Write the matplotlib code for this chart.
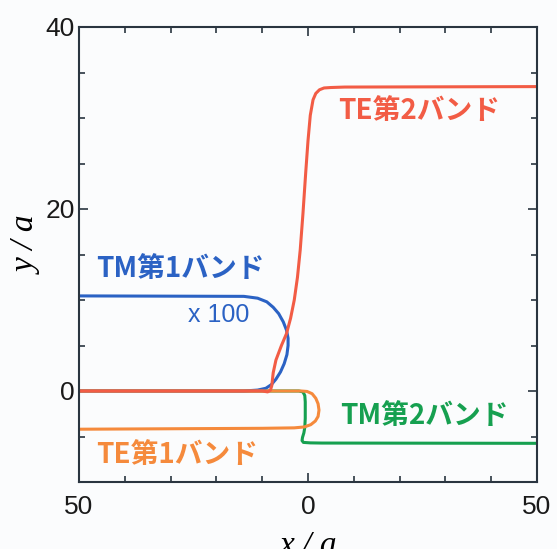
import numpy as np
import matplotlib.pyplot as plt
from matplotlib.ticker import MultipleLocator, FixedLocator

# TE band 2 (red)
te2_x = [-50, -10, -8.8, -8.2, -7.9, -7.6, -7.0, -5.8, -4.7, -3.8, -3.0, -2.3, -1.7, -1.1, -0.5, 0.0, 0.5, 1.1, 1.7, 2.5, 3.5, 5, 8, 50]
te2_y = [0, 0, -0.1, 0.1, 0.6, 2.0, 3.4, 5.0, 6.3, 8.0, 10.0, 12.5, 15.5, 19.5, 24.0, 27.5, 30.3, 32.0, 32.7, 33.1, 33.3, 33.35, 33.4, 33.45]

# TM band 1 (blue, x100)
tm1_x = [-50, -14, -11, -9.2, -8.0, -7.0, -6.0, -5.2, -4.6, -4.35, -4.35, -4.7, -5.4, -6.4, -7.6, -9.0, -11, -14, -50]
tm1_y = [0, 0, 0.1, 0.3, 0.7, 1.3, 2.1, 3.0, 4.0, 5.0, 5.8, 6.7, 7.6, 8.5, 9.2, 9.8, 10.2, 10.4, 10.45]

# TE band 1 (orange)
te1_x = [-50, -4, -1.5, -0.2, 0.9, 1.7, 2.2, 2.4, 2.2, 1.6, 0.6, -0.8, -3, -10, -50]
te1_y = [0, 0, 0.0, -0.05, -0.3, -0.8, -1.4, -2.1, -2.8, -3.3, -3.7, -3.95, -4.05, -4.1, -4.2]

# TM band 2 (green)
tm2_x = [-50, -2.0, -1.1, -0.7, -0.6, -0.6, -0.7, -0.9, -1.2, -1.3, -1.0, 0.5, 3, 50]
tm2_y = [0, 0, -0.1, -0.5, -1.2, -3.0, -4.0, -4.6, -5.1, -5.45, -5.65, -5.7, -5.72, -5.75]

xtick_vals = [-50, 0, 50]
xtick_text = ['50', '0', '50']
ytick_vals = [0, 20, 40]

c_red = '#f25c45'
c_blue = '#2b62c4'
c_orange = '#f58a3c'
c_green = '#16a050'

fig = plt.figure(figsize=(5.57, 5.49), dpi=100)
fig.patch.set_facecolor('#fbfcfd')
ax = fig.add_axes([79/557, 1-482/549, (537-79)/557, (482-27)/549])
ax.set_facecolor('#fbfcfd')

lw = 2.2
ax.plot(tm2_x, tm2_y, color=c_green, lw=lw, solid_capstyle='round', solid_joinstyle='round')
ax.plot(tm1_x, tm1_y, color=c_blue, lw=lw, solid_capstyle='round', solid_joinstyle='round')
ax.plot(te1_x, te1_y, color=c_orange, lw=lw, solid_capstyle='round', solid_joinstyle='round')
ax.plot(te2_x, te2_y, color=c_red, lw=lw, solid_capstyle='round', solid_joinstyle='round')

ax.set_xlim(-50, 50)
ax.set_ylim(-10, 40)
ax.xaxis.set_major_locator(FixedLocator(xtick_vals))
ax.set_xticklabels(xtick_text)
ax.xaxis.set_minor_locator(MultipleLocator(10))
ax.yaxis.set_major_locator(FixedLocator(ytick_vals))
ax.yaxis.set_minor_locator(MultipleLocator(5))

spc = '#2a3540'
for s in ax.spines.values():
    s.set_color(spc)
    s.set_linewidth(1.5)
ax.tick_params(which='both', direction='in', top=True, right=True, color=spc, width=1.2)
ax.tick_params(which='major', length=6.5)
ax.tick_params(which='minor', length=4.5)
ax.tick_params(axis='y', which='major', pad=3)
ax.tick_params(axis='x', which='major', pad=9)
for lab in ax.get_xticklabels() + ax.get_yticklabels():
    lab.set_fontfamily('Liberation Sans')
    lab.set_fontsize(19)
    lab.set_color('#1a1a1a')
ax.get_xticklabels()[0].set_x(-51.5)

ax.set_xlabel('x / a', fontsize=24, family='Liberation Serif', style='italic', labelpad=9)
ax.set_ylabel('y / a', fontsize=24, family='Liberation Serif', style='italic')
ax.yaxis.set_label_coords(-0.08, 0.52)

jp = ['Noto Sans CJK JP', 'DejaVu Sans']
ax.text(-27.9, 13.4, 'TM第1バンド', color=c_blue, fontsize=20, fontweight='bold', family=jp, ha='center', va='center')
ax.text(-19.6, 8.3, 'x 100', color=c_blue, fontsize=18, family='Liberation Sans', ha='center', va='center')
ax.text(24.2, 30.8, 'TE第2バンド', color=c_red, fontsize=20, fontweight='bold', family=jp, ha='center', va='center')
ax.text(25.5, -2.7, 'TM第2バンド', color=c_green, fontsize=20, fontweight='bold', family=jp, ha='center', va='center')
ax.text(-28.6, -7.0, 'TE第1バンド', color=c_orange, fontsize=20, fontweight='bold', family=jp, ha='center', va='center')

fig.savefig('out.png', dpi=100, facecolor=fig.get_facecolor())
